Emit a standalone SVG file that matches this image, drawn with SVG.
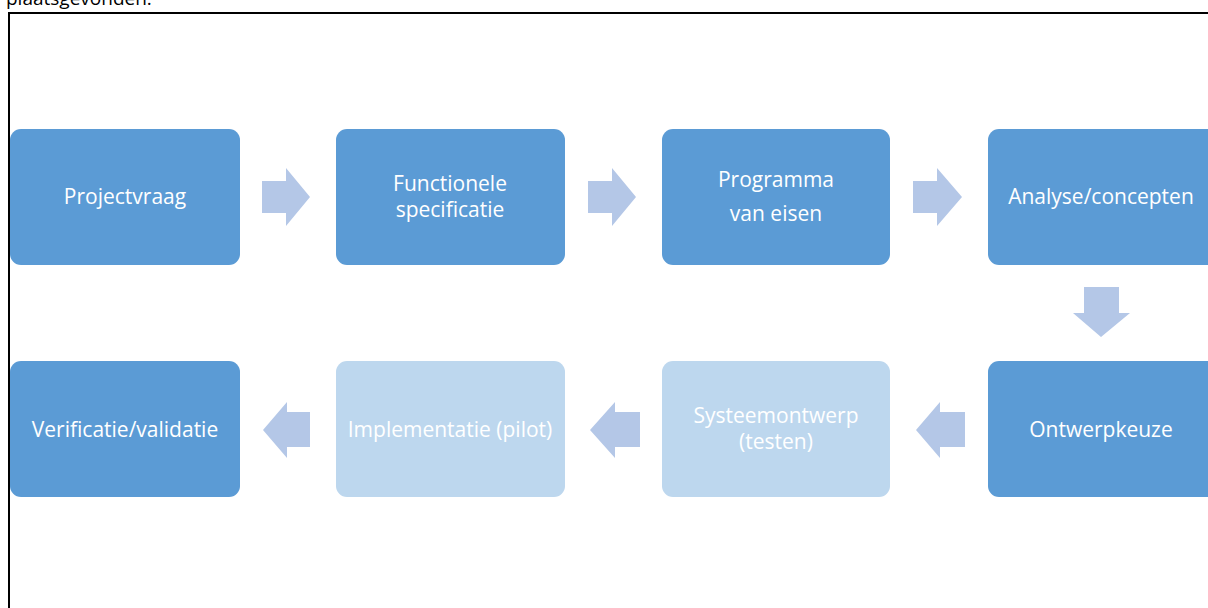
<svg xmlns="http://www.w3.org/2000/svg" width="1208" height="608" viewBox="0 0 1208 608">
<style>
.dark{fill:#5B9BD5}
.light{fill:#BDD7EE}
.arr{fill:#B4C7E7}
.t{font-family:"Open Sans","Liberation Sans",sans-serif;font-size:21px;fill:#ffffff;text-anchor:middle}
.cap{font-family:"Open Sans","Liberation Sans",sans-serif;font-size:19px;fill:#000000}
</style>
<rect width="1208" height="608" fill="#ffffff"/>
<text class="cap" x="6" y="5">plaatsgevonden.</text>
<rect x="9" y="13" width="1220" height="620" fill="none" stroke="#000000" stroke-width="2"/>
<g id="connectors">
<polygon class="arr" points="262,181 286,181 286,168 310,197 286,226 286,213 262,213"/>
<polygon class="arr" points="588,181 612,181 612,168 636,197 612,226 612,213 588,213"/>
<polygon class="arr" points="913,181 937,181 937,168 962,197 937,226 937,213 913,213"/>
<polygon class="arr" points="1084,287 1119,287 1119,313 1130,313 1101,337 1073,313 1084,313"/>
<polygon class="arr" points="965,412 940,412 940,402 916,430 940,458 940,447 965,447"/>
<polygon class="arr" points="640,412 615,412 615,402 590,430 615,458 615,447 640,447"/>
<polygon class="arr" points="310,412 287,412 287,402 263,430 287,458 287,447 310,447"/>
</g>
<g id="n1"><rect class="dark" x="10" y="129" width="230" height="136" rx="11"/><text class="t" x="125" y="204">Projectvraag</text></g>
<g id="n2"><rect class="dark" x="336" y="129" width="229" height="136" rx="11"/><text class="t" x="450" y="191">Functionele</text><text class="t" x="450" y="217">specificatie</text></g>
<g id="n3"><rect class="dark" x="662" y="129" width="228" height="136" rx="11"/><text class="t" x="776" y="187">Programma</text><text class="t" x="776" y="221">van eisen</text></g>
<g id="n4"><rect class="dark" x="988" y="129" width="230" height="136" rx="11"/><text class="t" x="1101" y="204">Analyse/concepten</text></g>
<g id="n5"><rect class="dark" x="988" y="361" width="230" height="136" rx="11"/><text class="t" x="1101" y="437">Ontwerpkeuze</text></g>
<g id="n6"><rect class="light" x="662" y="361" width="228" height="136" rx="11"/><text class="t" x="776" y="423">Systeemontwerp</text><text class="t" x="776" y="449">(testen)</text></g>
<g id="n7"><rect class="light" x="336" y="361" width="229" height="136" rx="11"/><text class="t" x="450" y="437">Implementatie (pilot)</text></g>
<g id="n8"><rect class="dark" x="10" y="361" width="230" height="136" rx="11"/><text class="t" x="125" y="437">Verificatie/validatie</text></g>
</svg>
